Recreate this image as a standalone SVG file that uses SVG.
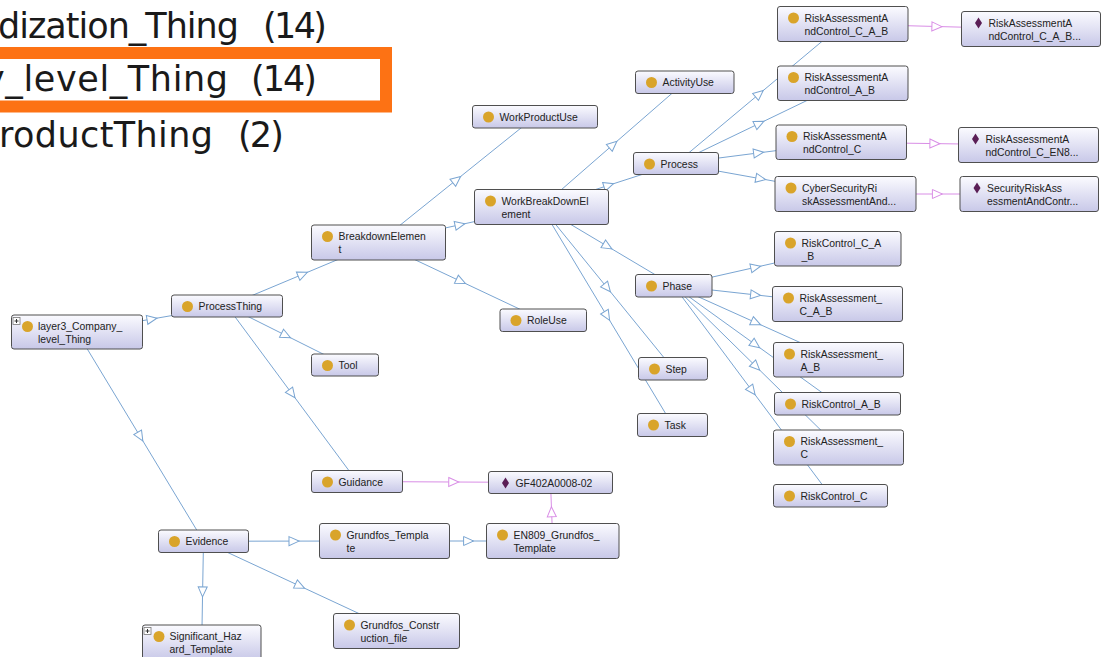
<svg xmlns="http://www.w3.org/2000/svg" width="1107" height="657" viewBox="0 0 1107 657">
  <defs>
    <style>
      .hdr { font-family: "DejaVu Sans", "Liberation Sans", sans-serif; font-size: 35px; fill: #1a1a1a; }
      .node rect.box { fill: url(#nodeFill); stroke: #4f4f4f; stroke-width: 1; }
      .node text { font-family: "Liberation Sans", Arial, sans-serif; font-size: 10.4px; fill: #222; }
      .node circle { fill: #d9a42a; }
      .node path.ind { fill: #5a1e56; }
      .sub { fill: none; stroke: #7aa5d2; stroke-width: 1; marker-mid: url(#subArrow); }
      .inst { fill: none; stroke: #d98ee6; stroke-width: 1; marker-mid: url(#instArrow); }
      .exp rect { fill: #fff; stroke: #777; stroke-width: 0.8; }
      .exp path { stroke: #333; stroke-width: 1; fill: none; }
    </style>
    <linearGradient id="nodeFill" x1="0" y1="0" x2="0" y2="1">
      <stop offset="0" stop-color="#fbfbff"/>
      <stop offset="1" stop-color="#c8c8e8"/>
    </linearGradient>
    <marker id="subArrow" viewBox="-1 -1 12 11" refX="5" refY="4.5" markerWidth="12" markerHeight="11" markerUnits="userSpaceOnUse" orient="auto" overflow="visible">
      <path d="M0,0 L10,4.5 L0,9 Z" fill="#fff" stroke="#7aa5d2" stroke-width="1"/>
    </marker>
    <marker id="instArrow" viewBox="-1 -1 12 11" refX="5" refY="4.5" markerWidth="12" markerHeight="11" markerUnits="userSpaceOnUse" orient="auto" overflow="visible">
      <path d="M0,0 L10,4.5 L0,9 Z" fill="#fff" stroke="#d98ee6" stroke-width="1"/>
    </marker>
  </defs>

  <rect width="1107" height="657" fill="#fff"/>

  <!-- class list panel with the selected entry -->
  <g id="class-list">
    <rect x="-10" y="53" width="396" height="53.5" fill="#fff" stroke="#fd7214" stroke-width="12"/>
    <text class="hdr" x="-2" y="38" textLength="241" lengthAdjust="spacing">dization_Thing</text>
    <text class="hdr" x="263" y="38" textLength="64" lengthAdjust="spacing">(14)</text>
    <text class="hdr" x="-16" y="91" textLength="244" lengthAdjust="spacing">y_level_Thing</text>
    <text class="hdr" x="251" y="91" textLength="66" lengthAdjust="spacing">(14)</text>
    <text class="hdr" x="-1" y="147" textLength="214" lengthAdjust="spacing">roductThing</text>
    <text class="hdr" x="238" y="147" textLength="46" lengthAdjust="spacing">(2)</text>
  </g>

  <!-- edges run centre to centre; boxes are painted on top -->
  <g id="connectors">
    <path class="sub" d="M77,332 L152,319 L227,306"/>
    <path class="sub" d="M77,332 L140.25,436.6 L203.5,541.25"/>
    <path class="sub" d="M227,306 L302.75,274.25 L378.5,242.5"/>
    <path class="sub" d="M227,306 L286,335.5 L345,365"/>
    <path class="sub" d="M227,306 L292,393.75 L357,481.5"/>
    <path class="sub" d="M378.5,242.5 L456.75,179.6 L535,116.75"/>
    <path class="sub" d="M378.5,242.5 L460,224.75 L541.5,207"/>
    <path class="sub" d="M378.5,242.5 L460.9,281.4 L543.25,320.25"/>
    <path class="sub" d="M541.5,207 L613.1,144.6 L684.75,82.25"/>
    <path class="sub" d="M541.5,207 L608.75,185.25 L676,163.5"/>
    <path class="sub" d="M541.5,207 L607.6,246.4 L673.75,285.75"/>
    <path class="sub" d="M541.5,207 L607.25,287.9 L673,368.75"/>
    <path class="sub" d="M541.5,207 L607,316 L672.5,425"/>
    <path class="sub" d="M676,163.5 L759.4,93.75 L842.75,24"/>
    <path class="sub" d="M676,163.5 L759.4,123.4 L842.75,83.25"/>
    <path class="sub" d="M676,163.5 L758.6,152.9 L841.25,142.25"/>
    <path class="sub" d="M676,163.5 L760.75,178.75 L845.5,194"/>
    <path class="sub" d="M673.75,285.75 L755.75,267.25 L837.75,248.75"/>
    <path class="sub" d="M673.75,285.75 L755.6,294.9 L837.5,304"/>
    <path class="sub" d="M673.75,285.75 L756.1,322.75 L838.5,359.75"/>
    <path class="sub" d="M673.75,285.75 L755.6,344.75 L837.5,403.75"/>
    <path class="sub" d="M673.75,285.75 L756.1,366.6 L838.5,447.5"/>
    <path class="sub" d="M673.75,285.75 L752.1,390.75 L830.5,495.75"/>
    <path class="sub" d="M203.5,541.25 L294,541.1 L384.5,541"/>
    <path class="sub" d="M203.5,541.25 L202.6,591.9 L201.75,642.5"/>
    <path class="sub" d="M203.5,541.25 L300,586.1 L396.5,631"/>
    <path class="sub" d="M384.5,541 L468.6,541 L552.75,541"/>
    <path class="inst" d="M842.75,24 L936.9,26.5 L1031,29"/>
    <path class="inst" d="M841.25,142.25 L934.9,143.6 L1028.5,145"/>
    <path class="inst" d="M845.5,194 L937.4,194 L1029.25,194"/>
    <path class="inst" d="M357,481.5 L453.75,482 L550.5,482.5"/>
    <path class="inst" d="M552.75,541 L551.6,511.75 L550.5,482.5"/>
  </g>

  <g id="layer3_Company_level_Thing" class="node" transform="translate(11.5,315)">
    <rect class="box" width="131" height="34" rx="2.5"/>
    <g class="exp"><rect x="1.5" y="2.5" width="7" height="7"/><path d="M3,6 H7 M5,4 V8"/></g>
    <circle cx="16" cy="11.5" r="5.5"/>
    <text x="26.5" y="15">layer3_Company_</text>
    <text x="26.5" y="28">level_Thing</text>
  </g>

  <g id="ProcessThing" class="node" transform="translate(171.5,295)">
    <rect class="box" width="111" height="22" rx="2.5"/>
    <circle cx="16" cy="11.5" r="5.5"/>
    <text x="27" y="15">ProcessThing</text>
  </g>

  <g id="BreakdownElement" class="node" transform="translate(311.5,225)">
    <rect class="box" width="134" height="35" rx="2.5"/>
    <circle cx="16" cy="11.5" r="5.5"/>
    <text x="27" y="15">BreakdownElemen</text>
    <text x="27" y="28">t</text>
  </g>

  <g id="Tool" class="node" transform="translate(311.5,354)">
    <rect class="box" width="67" height="22" rx="2.5"/>
    <circle cx="16" cy="11.5" r="5.5"/>
    <text x="27" y="15">Tool</text>
  </g>

  <g id="WorkProductUse" class="node" transform="translate(472.5,105.5)">
    <rect class="box" width="125" height="22.5" rx="2.5"/>
    <circle cx="16" cy="11.5" r="5.5"/>
    <text x="27" y="15">WorkProductUse</text>
  </g>

  <g id="ActivityUse" class="node" transform="translate(635.5,71)">
    <rect class="box" width="98.5" height="22.5" rx="2.5"/>
    <circle cx="16" cy="11.5" r="5.5"/>
    <text x="27" y="15">ActivityUse</text>
  </g>

  <g id="Process" class="node" transform="translate(633.5,152.5)">
    <rect class="box" width="85" height="22" rx="2.5"/>
    <circle cx="16" cy="11.5" r="5.5"/>
    <text x="27" y="15">Process</text>
  </g>

  <g id="WorkBreakDownElement" class="node" transform="translate(474.5,189.5)">
    <rect class="box" width="134" height="35" rx="2.5"/>
    <circle cx="16" cy="11.5" r="5.5"/>
    <text x="27" y="15">WorkBreakDownEl</text>
    <text x="27" y="28">ement</text>
  </g>

  <g id="RiskAssessmentAndControl_C_A_B" class="node" transform="translate(777.5,6.5)">
    <rect class="box" width="130.5" height="35" rx="2.5"/>
    <circle cx="16" cy="11.5" r="5.5"/>
    <text x="27" y="15">RiskAssessmentA</text>
    <text x="27" y="28">ndControl_C_A_B</text>
  </g>

  <g id="RiskAssessmentAndControl_C_A_B_individual" class="node" transform="translate(961.5,11.5)">
    <rect class="box" width="139" height="35" rx="2.5"/>
    <path class="ind" d="M17,6 L20.5,11.5 L17,17 L13.5,11.5 Z"/>
    <text x="27" y="15">RiskAssessmentA</text>
    <text x="27" y="28">ndControl_C_A_B...</text>
  </g>

  <g id="RiskAssessmentAndControl_A_B" class="node" transform="translate(777.5,66)">
    <rect class="box" width="130.5" height="34.5" rx="2.5"/>
    <circle cx="16" cy="11.5" r="5.5"/>
    <text x="27" y="15">RiskAssessmentA</text>
    <text x="27" y="28">ndControl_A_B</text>
  </g>

  <g id="RiskAssessmentAndControl_C" class="node" transform="translate(776,125)">
    <rect class="box" width="130.5" height="34.5" rx="2.5"/>
    <circle cx="16" cy="11.5" r="5.5"/>
    <text x="27" y="15">RiskAssessmentA</text>
    <text x="27" y="28">ndControl_C</text>
  </g>

  <g id="RiskAssessmentAndControl_C_EN8_individual" class="node" transform="translate(958.5,127.5)">
    <rect class="box" width="140" height="35" rx="2.5"/>
    <path class="ind" d="M17,6 L20.5,11.5 L17,17 L13.5,11.5 Z"/>
    <text x="27" y="15">RiskAssessmentA</text>
    <text x="27" y="28">ndControl_C_EN8...</text>
  </g>

  <g id="CyberSecurityRiskAssessmentAnd" class="node" transform="translate(775,176.5)">
    <rect class="box" width="141" height="35" rx="2.5"/>
    <circle cx="16" cy="11.5" r="5.5"/>
    <text x="27" y="15">CyberSecurityRi</text>
    <text x="27" y="28">skAssessmentAnd...</text>
  </g>

  <g id="SecurityRiskAssessmentAndContr_individual" class="node" transform="translate(960,176.5)">
    <rect class="box" width="138.5" height="35" rx="2.5"/>
    <path class="ind" d="M17,6 L20.5,11.5 L17,17 L13.5,11.5 Z"/>
    <text x="27" y="15">SecurityRiskAss</text>
    <text x="27" y="28">essmentAndContr...</text>
  </g>

  <g id="Phase" class="node" transform="translate(635.5,274.5)">
    <rect class="box" width="76.5" height="22.5" rx="2.5"/>
    <circle cx="16" cy="11.5" r="5.5"/>
    <text x="27" y="15">Phase</text>
  </g>

  <g id="RiskControl_C_A_B" class="node" transform="translate(774.5,231.5)">
    <rect class="box" width="126.5" height="34.5" rx="2.5"/>
    <circle cx="16" cy="11.5" r="5.5"/>
    <text x="27" y="15">RiskControl_C_A</text>
    <text x="27" y="28">_B</text>
  </g>

  <g id="RiskAssessment_C_A_B" class="node" transform="translate(772.5,286.5)">
    <rect class="box" width="130" height="35" rx="2.5"/>
    <circle cx="16" cy="11.5" r="5.5"/>
    <text x="27" y="15">RiskAssessment_</text>
    <text x="27" y="28">C_A_B</text>
  </g>

  <g id="RiskAssessment_A_B" class="node" transform="translate(773.5,342.5)">
    <rect class="box" width="130" height="34.5" rx="2.5"/>
    <circle cx="16" cy="11.5" r="5.5"/>
    <text x="27" y="15">RiskAssessment_</text>
    <text x="27" y="28">A_B</text>
  </g>

  <g id="Step" class="node" transform="translate(638.5,357.5)">
    <rect class="box" width="69" height="22.5" rx="2.5"/>
    <circle cx="16" cy="11.5" r="5.5"/>
    <text x="27" y="15">Step</text>
  </g>

  <g id="RiskControl_A_B" class="node" transform="translate(774.5,392.5)">
    <rect class="box" width="126" height="22.5" rx="2.5"/>
    <circle cx="16" cy="11.5" r="5.5"/>
    <text x="27" y="15">RiskControl_A_B</text>
  </g>

  <g id="Task" class="node" transform="translate(637.5,413.5)">
    <rect class="box" width="70" height="23" rx="2.5"/>
    <circle cx="16" cy="11.5" r="5.5"/>
    <text x="27" y="15">Task</text>
  </g>

  <g id="RiskAssessment_C" class="node" transform="translate(773.5,430)">
    <rect class="box" width="130" height="35" rx="2.5"/>
    <circle cx="16" cy="11.5" r="5.5"/>
    <text x="27" y="15">RiskAssessment_</text>
    <text x="27" y="28">C</text>
  </g>

  <g id="RiskControl_C" class="node" transform="translate(773.5,484.5)">
    <rect class="box" width="114" height="22.5" rx="2.5"/>
    <circle cx="16" cy="11.5" r="5.5"/>
    <text x="27" y="15">RiskControl_C</text>
  </g>

  <g id="RoleUse" class="node" transform="translate(500,309)">
    <rect class="box" width="86.5" height="22.5" rx="2.5"/>
    <circle cx="16" cy="11.5" r="5.5"/>
    <text x="27" y="15">RoleUse</text>
  </g>

  <g id="Guidance" class="node" transform="translate(311.5,470.5)">
    <rect class="box" width="91" height="22" rx="2.5"/>
    <circle cx="16" cy="11.5" r="5.5"/>
    <text x="27" y="15">Guidance</text>
  </g>

  <g id="GF402A0008-02" class="node" transform="translate(488.5,471.5)">
    <rect class="box" width="124" height="22" rx="2.5"/>
    <path class="ind" d="M17,6 L20.5,11.5 L17,17 L13.5,11.5 Z"/>
    <text x="27" y="15">GF402A0008-02</text>
  </g>

  <g id="Grundfos_Template" class="node" transform="translate(319.5,523.5)">
    <rect class="box" width="130" height="35" rx="2.5"/>
    <circle cx="16" cy="11.5" r="5.5"/>
    <text x="27" y="15">Grundfos_Templa</text>
    <text x="27" y="28">te</text>
  </g>

  <g id="EN809_Grundfos_Template" class="node" transform="translate(486.5,523.5)">
    <rect class="box" width="132.5" height="35" rx="2.5"/>
    <circle cx="16" cy="11.5" r="5.5"/>
    <text x="27" y="15">EN809_Grundfos_</text>
    <text x="27" y="28">Template</text>
  </g>

  <g id="Evidence" class="node" transform="translate(158.5,530)">
    <rect class="box" width="90" height="22.5" rx="2.5"/>
    <circle cx="16" cy="11.5" r="5.5"/>
    <text x="27" y="15">Evidence</text>
  </g>

  <g id="Significant_Hazard_Template" class="node" transform="translate(142.5,625)">
    <rect class="box" width="118.5" height="35" rx="2.5"/>
    <g class="exp"><rect x="1.5" y="2.5" width="7" height="7"/><path d="M3,6 H7 M5,4 V8"/></g>
    <circle cx="16.5" cy="11.5" r="5.5"/>
    <text x="27" y="15">Significant_Haz</text>
    <text x="27" y="28">ard_Template</text>
  </g>

  <g id="Grundfos_Construction_file" class="node" transform="translate(333.5,613.5)">
    <rect class="box" width="126" height="35" rx="2.5"/>
    <circle cx="16" cy="11.5" r="5.5"/>
    <text x="27" y="15">Grundfos_Constr</text>
    <text x="27" y="28">uction_file</text>
  </g>
</svg>
